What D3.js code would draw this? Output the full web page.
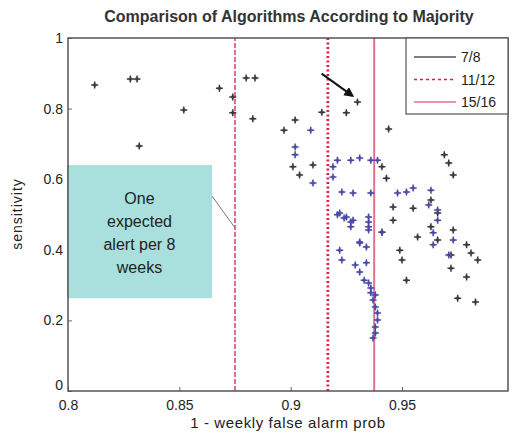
<!DOCTYPE html>
<html>
<head>
<meta charset="utf-8">
<script src="https://d3js.org/d3.v7.js"></script>
<style type="text/css">
    body { margin: 0; background: #fff; }
    text { font-family: "Liberation Sans", Arial, sans-serif; fill: #222; }
    .tick text { font-size: 14px; }
</style>
</head>
<body>
<svg width="512" height="433"></svg>
<script>
// data: [1 - weekly false alarm prob, sensitivity]
var blackPts = [
    [0.812,0.867],[0.828,0.884],[0.831,0.884],[0.868,0.858],[0.874,0.833],[0.874,0.788],
    [0.852,0.796],[0.832,0.694],[0.883,0.771],[0.880,0.887],[0.884,0.887],[0.897,0.739],
    [0.902,0.768],[0.914,0.790],[0.925,0.788],[0.930,0.819],[0.944,0.742],[0.901,0.635],
    [0.904,0.612],[0.910,0.640],[0.943,0.603],[0.941,0.635],[0.969,0.669],[0.971,0.646],
    [0.973,0.612],[0.955,0.518],[0.963,0.541],[0.946,0.521],[0.946,0.484],[0.966,0.504],
    [0.941,0.450],[0.957,0.436],[0.963,0.465],[0.966,0.428],[0.973,0.456],[0.979,0.414],
    [0.949,0.399],[0.950,0.371],[0.952,0.314],[0.975,0.263],[0.983,0.252],[0.979,0.323],
    [0.972,0.348],[0.972,0.385],[0.981,0.391],[0.984,0.371]
];
var bluePts = [
    [0.909,0.739],[0.902,0.691],[0.902,0.669],[0.910,0.589],[0.919,0.635],[0.921,0.654],
    [0.927,0.654],[0.931,0.660],[0.936,0.654],[0.939,0.654],[0.919,0.606],[0.923,0.564],
    [0.928,0.561],[0.936,0.561],[0.948,0.561],[0.952,0.564],[0.955,0.575],[0.963,0.569],
    [0.922,0.504],[0.925,0.493],[0.928,0.484],[0.935,0.493],[0.935,0.465],[0.931,0.422],
    [0.921,0.499],[0.924,0.490],[0.927,0.479],[0.927,0.465],[0.935,0.479],[0.935,0.456],
    [0.941,0.450],[0.962,0.527],[0.966,0.513],[0.966,0.484],[0.964,0.448],[0.964,0.414],
    [0.973,0.428],[0.971,0.385],[0.931,0.419],[0.934,0.408],[0.922,0.399],[0.923,0.371],
    [0.929,0.357],[0.931,0.337],[0.933,0.314],[0.936,0.292],[0.938,0.272],[0.934,0.363],
    [0.935,0.306],[0.936,0.278],[0.937,0.258],[0.938,0.238],[0.939,0.221],[0.939,0.201],
    [0.938,0.181],[0.938,0.164],[0.937,0.150]
];
var thresholds = [0.875, 0.9167, 0.9375];
var thresholdNames = ["7/8", "11/12", "15/16"];
var xTicks = [0.8, 0.85, 0.9, 0.95];
var yTicks = [0, 0.2, 0.4, 0.6, 0.8, 1];
var noteLines = ["One", "expected", "alert per 8", "weeks"];

var svg = d3.select("svg");
var margin = {top: 38, right: 4, bottom: 42, left: 68},
    width = 512 - margin.left - margin.right,
    height = 433 - margin.top - margin.bottom;
var g = svg.append("g").attr("transform", `translate(${margin.left}, ${margin.top})`);

var x = d3.scaleLinear().domain([0.8, 0.9976]).range([0, width]);
var y = d3.scaleLinear().domain([0, 1]).range([height, 0]);

svg.append("defs").append("marker")
    .attr("id", "head").attr("viewBox", "0 0 10 10")
    .attr("refX", 8).attr("refY", 5)
    .attr("markerWidth", 5).attr("markerHeight", 5)
    .attr("orient", "auto")
    .append("path").attr("d", "M0,0 L10,5 L0,10 z").attr("fill", "#111");

// axes, matlab style ticks pointing inward
g.append("g").attr("transform", `translate(0, ${height})`)
    .call(d3.axisBottom(x).tickValues(xTicks).tickSize(-4).tickPadding(9)
        .tickFormat(d => String(+d.toFixed(2))));
var yAxis = g.append("g")
    .call(d3.axisLeft(y).tickValues(yTicks).tickSize(-4).tickPadding(5)
        .tickFormat(d => String(+d.toFixed(1))));
// lift the "0" label so it clears the x tick labels
yAxis.selectAll(".tick text").filter(d => d === 0).attr("dy", "-0.1em");
g.selectAll(".domain").remove();
g.selectAll(".tick line").attr("stroke", "#666");

// vertical threshold lines
var lineStyles = [
    {stroke: "#d8305c", width: 1.4, dash: "5,2"},
    {stroke: "#d8204a", width: 2.8, dash: "2,2.5"},
    {stroke: "#e8708c", width: 2, dash: null}
];
thresholds.forEach(function(t, i) {
    g.append("line")
        .attr("x1", x(t)).attr("x2", x(t))
        .attr("y1", y(0)).attr("y2", y(1))
        .attr("stroke", lineStyles[i].stroke)
        .attr("stroke-width", lineStyles[i].width)
        .attr("stroke-dasharray", lineStyles[i].dash);
});

// points
function drawPts(data, color) {
    var p = g.append("g").selectAll("g").data(data).join("g")
        .attr("transform", d => `translate(${x(d[0])}, ${y(d[1])})`);
    p.append("path").attr("d", "M-3.5,0 H3.5 M0,-3.5 V3.5")
        .attr("stroke", color).attr("stroke-width", 1.5).attr("fill", "none");
    p.append("circle").attr("r", 2).attr("fill", color).attr("opacity", 0.6);
}
drawPts(blackPts, "#3a3a3a");
drawPts(bluePts, "#4a4aa6");

// arrow pointing at a point
g.append("line")
    .attr("x1", x(0.9139)).attr("y1", y(0.899))
    .attr("x2", x(0.9278)).attr("y2", y(0.836))
    .attr("stroke", "#111").attr("stroke-width", 2)
    .attr("marker-end", "url(#head)");

// annotation box
var bx0 = x(0.7995), bx1 = x(0.8647), by0 = y(0.640), by1 = y(0.263);
g.append("line")
    .attr("x1", bx1).attr("y1", y(0.552))
    .attr("x2", x(0.875)).attr("y2", y(0.462))
    .attr("stroke", "#777").attr("stroke-width", 1);
g.append("rect")
    .attr("x", bx0).attr("y", by0)
    .attr("width", bx1 - bx0).attr("height", by1 - by0)
    .attr("fill", "#a9dfdc");
g.append("g").selectAll("text").data(noteLines).join("text")
    .attr("x", (bx0 + bx1) / 2)
    .attr("y", (d, i) => (by0 + by1) / 2 - 28 + i * 23)
    .attr("text-anchor", "middle")
    .style("font-size", "16px")
    .text(d => d);

// box around the plot
g.append("rect").attr("width", width).attr("height", height)
    .attr("fill", "none").attr("stroke", "#555").attr("stroke-width", 1.5);

// legend
var lg = g.append("g").attr("transform", `translate(${width - 102}, 0)`);
lg.append("rect").attr("width", 102).attr("height", 76)
    .attr("fill", "#fff").attr("stroke", "#555").attr("stroke-width", 1.2);
thresholdNames.forEach(function(n, i) {
    var ly = 19 + i * 22.5;
    lg.append("line").attr("x1", 8).attr("x2", 50).attr("y1", ly).attr("y2", ly)
        .attr("stroke", i === 0 ? "#555" : lineStyles[i].stroke)
        .attr("stroke-width", i === 1 ? 1.5 : 1.6)
        .attr("stroke-dasharray", i === 1 ? "3,3" : null);
    lg.append("text").attr("x", 55).attr("y", ly + 5)
        .style("font-size", "14px").text(n);
});

// titles
svg.append("text").attr("x", 289).attr("y", 22)
    .attr("text-anchor", "middle")
    .style("font-size", "16px").style("font-weight", "bold").style("fill", "#333")
    .text("Comparison of Algorithms According to Majority");
svg.append("text").attr("x", 288).attr("y", 428)
    .attr("text-anchor", "middle")
    .style("font-size", "15px").style("letter-spacing", "0.6px")
    .text("1 - weekly false alarm prob");
svg.append("text")
    .attr("transform", "translate(22, 214) rotate(-90)")
    .attr("text-anchor", "middle")
    .style("font-size", "14px").style("letter-spacing", "1px")
    .text("sensitivity");
</script>
</body>
</html>
